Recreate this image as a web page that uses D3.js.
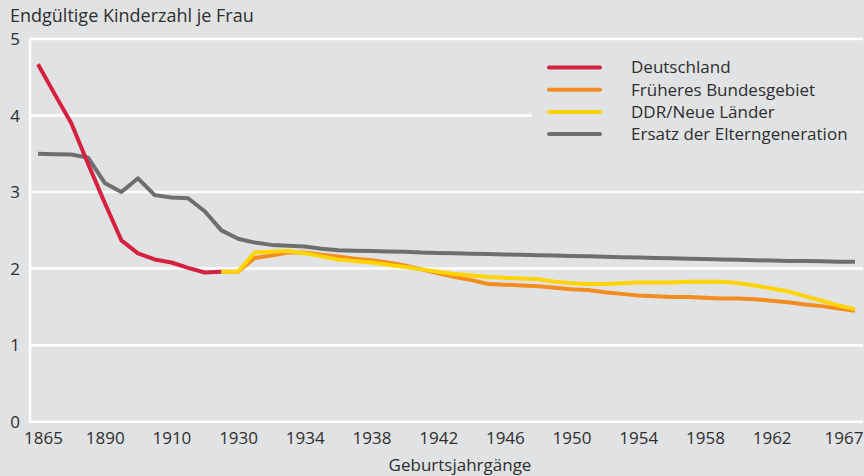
<!DOCTYPE html>
<html>
<head>
<meta charset="utf-8">
<script src="https://cdn.jsdelivr.net/npm/d3@7"></script>
<style>
    body { margin: 0; background: #e1e2e4; }
    svg { display: block; font-family: "Open Sans", sans-serif; }
</style>
</head>
<body>
<svg id="chart" width="864" height="476"></svg>
<script>
// Geburtsjahrgänge (cohorts): 5-year steps up to 1930, then yearly
const cohorts = [1865, 1870, 1875, 1880, 1890, 1895, 1900, 1905, 1910, 1915, 1920, 1925, 1930,
    1931, 1932, 1933, 1934, 1935, 1936, 1937, 1938, 1939, 1940, 1941, 1942, 1943, 1944, 1945,
    1946, 1947, 1948, 1949, 1950, 1951, 1952, 1953, 1954, 1955, 1956, 1957, 1958, 1959, 1960,
    1961, 1962, 1963, 1964, 1965, 1966, 1967];

const tickYears = [1865, 1890, 1910, 1930, 1934, 1938, 1942, 1946, 1950, 1954, 1958, 1962, 1967];
const yTicks = [0, 1, 2, 3, 4, 5];

// Deutschland, 1865-1925
const deutschland = [4.67, 4.28, 3.90, 3.37, 2.86, 2.37, 2.20, 2.12, 2.08, 2.01, 1.95, 1.96];

// Früheres Bundesgebiet, 1925-1967
const bundesgebiet = [1.96, 1.96, 2.14, 2.17, 2.21, 2.21, 2.18, 2.16, 2.13, 2.11, 2.08, 2.04,
    1.99, 1.94, 1.89, 1.85, 1.80, 1.79, 1.78, 1.77, 1.75, 1.73, 1.72, 1.69, 1.67, 1.65, 1.64,
    1.63, 1.63, 1.62, 1.61, 1.61, 1.60, 1.58, 1.56, 1.53, 1.51, 1.48, 1.45];

// DDR/Neue Länder, 1925-1967
const ddr = [1.96, 1.96, 2.21, 2.22, 2.23, 2.20, 2.16, 2.12, 2.10, 2.08, 2.05, 2.02,
    1.99, 1.96, 1.93, 1.91, 1.89, 1.88, 1.87, 1.86, 1.83, 1.81, 1.80, 1.80, 1.81, 1.82, 1.82,
    1.82, 1.83, 1.83, 1.83, 1.81, 1.78, 1.74, 1.70, 1.64, 1.58, 1.52, 1.47];

// Ersatz der Elterngeneration, 1865-1967
const ersatz = [3.50, 3.495, 3.49, 3.45, 3.12, 3.00, 3.18, 2.96, 2.93, 2.92, 2.75, 2.50, 2.39,
    2.34, 2.31, 2.30, 2.29, 2.26, 2.24, 2.235, 2.23, 2.225, 2.22, 2.21, 2.205, 2.20, 2.195, 2.19,
    2.185, 2.18, 2.175, 2.17, 2.165, 2.16, 2.155, 2.15, 2.145, 2.14, 2.135, 2.13, 2.125, 2.12, 2.115,
    2.11, 2.105, 2.10, 2.10, 2.095, 2.09, 2.09];

const series = [
    { name: 'Ersatz der Elterngeneration', values: ersatz, start: 1865, color: '#6d6e70' },
    { name: 'Deutschland', values: deutschland, start: 1865, color: '#d5213f' },
    { name: 'Früheres Bundesgebiet', values: bundesgebiet, start: 1925, color: '#f48c1f' },
    { name: 'DDR/Neue Länder', values: ddr, start: 1925, color: '#ffd400' }
];
const legendOrder = ['Deutschland', 'Früheres Bundesgebiet', 'DDR/Neue Länder', 'Ersatz der Elterngeneration'];

const svg = d3.select('#chart');
const bg = '#e1e2e4';
const textColor = '#2e2e2e';
const left = 30, right = 863;

svg.append('rect').attr('width', 864).attr('height', 476).attr('fill', bg);

const x = d3.scalePoint()
    .domain(cohorts)
    .range([38, 855]);

const y = d3.scaleLinear()
    .domain([0, 5])
    .range([421.7, 39]);

// Grid lines
svg.append('g')
    .selectAll('line')
    .data(yTicks)
    .enter()
    .append('line')
    .attr('x1', left)
    .attr('x2', right)
    .attr('y1', d => y(d))
    .attr('y2', d => y(d))
    .attr('stroke', '#fff')
    .attr('stroke-width', 2.5);

svg.append('line')
    .attr('x1', left).attr('x2', left)
    .attr('y1', y(5) - 1.25).attr('y2', y(0) + 1.25)
    .attr('stroke', '#fff')
    .attr('stroke-width', 2.5);

// Legend background covers grid
svg.append('rect')
    .attr('x', 532).attr('y', 46)
    .attr('width', 864 - 532).attr('height', 104)
    .attr('fill', bg);

// Y axis labels
svg.append('g')
    .selectAll('text')
    .data(yTicks)
    .enter()
    .append('text')
    .attr('x', 20)
    .attr('y', d => y(d))
    .attr('dy', '0.36em')
    .attr('text-anchor', 'end')
    .attr('font-size', '17px')
    .attr('fill', textColor)
    .text(d => d);

// X axis labels
const xAxis = svg.append('g')
    .attr('transform', `translate(0,${y(0)})`)
    .call(d3.axisBottom(x).tickValues(tickYears).tickSize(0).tickPadding(10).tickFormat(d => d));
xAxis.select('.domain').remove();
xAxis.selectAll('text')
    .attr('font-size', '17px')
    .attr('font-family', '"Open Sans", sans-serif')
    .attr('fill', textColor)
    .attr('dx', d => d === 1865 ? 5 : 0)
    .filter(d => d === 1967)
    .attr('text-anchor', 'end')
    .attr('dx', 8);

// Lines
const line = d3.line()
    .x(d => x(d.year))
    .y(d => y(d.value));

series.forEach(s => {
    const i0 = cohorts.indexOf(s.start);
    const pts = s.values.map((v, i) => ({ year: cohorts[i0 + i], value: v }));
    svg.append('path')
        .datum(pts)
        .attr('fill', 'none')
        .attr('stroke', s.color)
        .attr('stroke-width', 4)
        .attr('stroke-linejoin', 'round')
        .attr('d', line);
});

// Legend
const legend = svg.append('g');
legendOrder.forEach((name, i) => {
    const s = series.find(d => d.name === name);
    const ly = 67.5 + i * 22.2;
    legend.append('line')
        .attr('x1', 549).attr('x2', 600)
        .attr('y1', ly).attr('y2', ly)
        .attr('stroke', s.color)
        .attr('stroke-width', 4)
        .attr('stroke-linecap', 'round');
    legend.append('text')
        .attr('x', 631)
        .attr('y', ly)
        .attr('dy', '0.35em')
        .attr('font-size', '17px')
        .attr('fill', textColor)
        .text(name);
});

// Titles
svg.append('text')
    .attr('x', 10)
    .attr('y', 22)
    .attr('font-size', '18px')
    .attr('fill', textColor)
    .text('Endgültige Kinderzahl je Frau');

svg.append('text')
    .attr('x', 460)
    .attr('y', 471)
    .attr('text-anchor', 'middle')
    .attr('font-size', '17px')
    .attr('fill', textColor)
    .text('Geburtsjahrgänge');
</script>
</body>
</html>
